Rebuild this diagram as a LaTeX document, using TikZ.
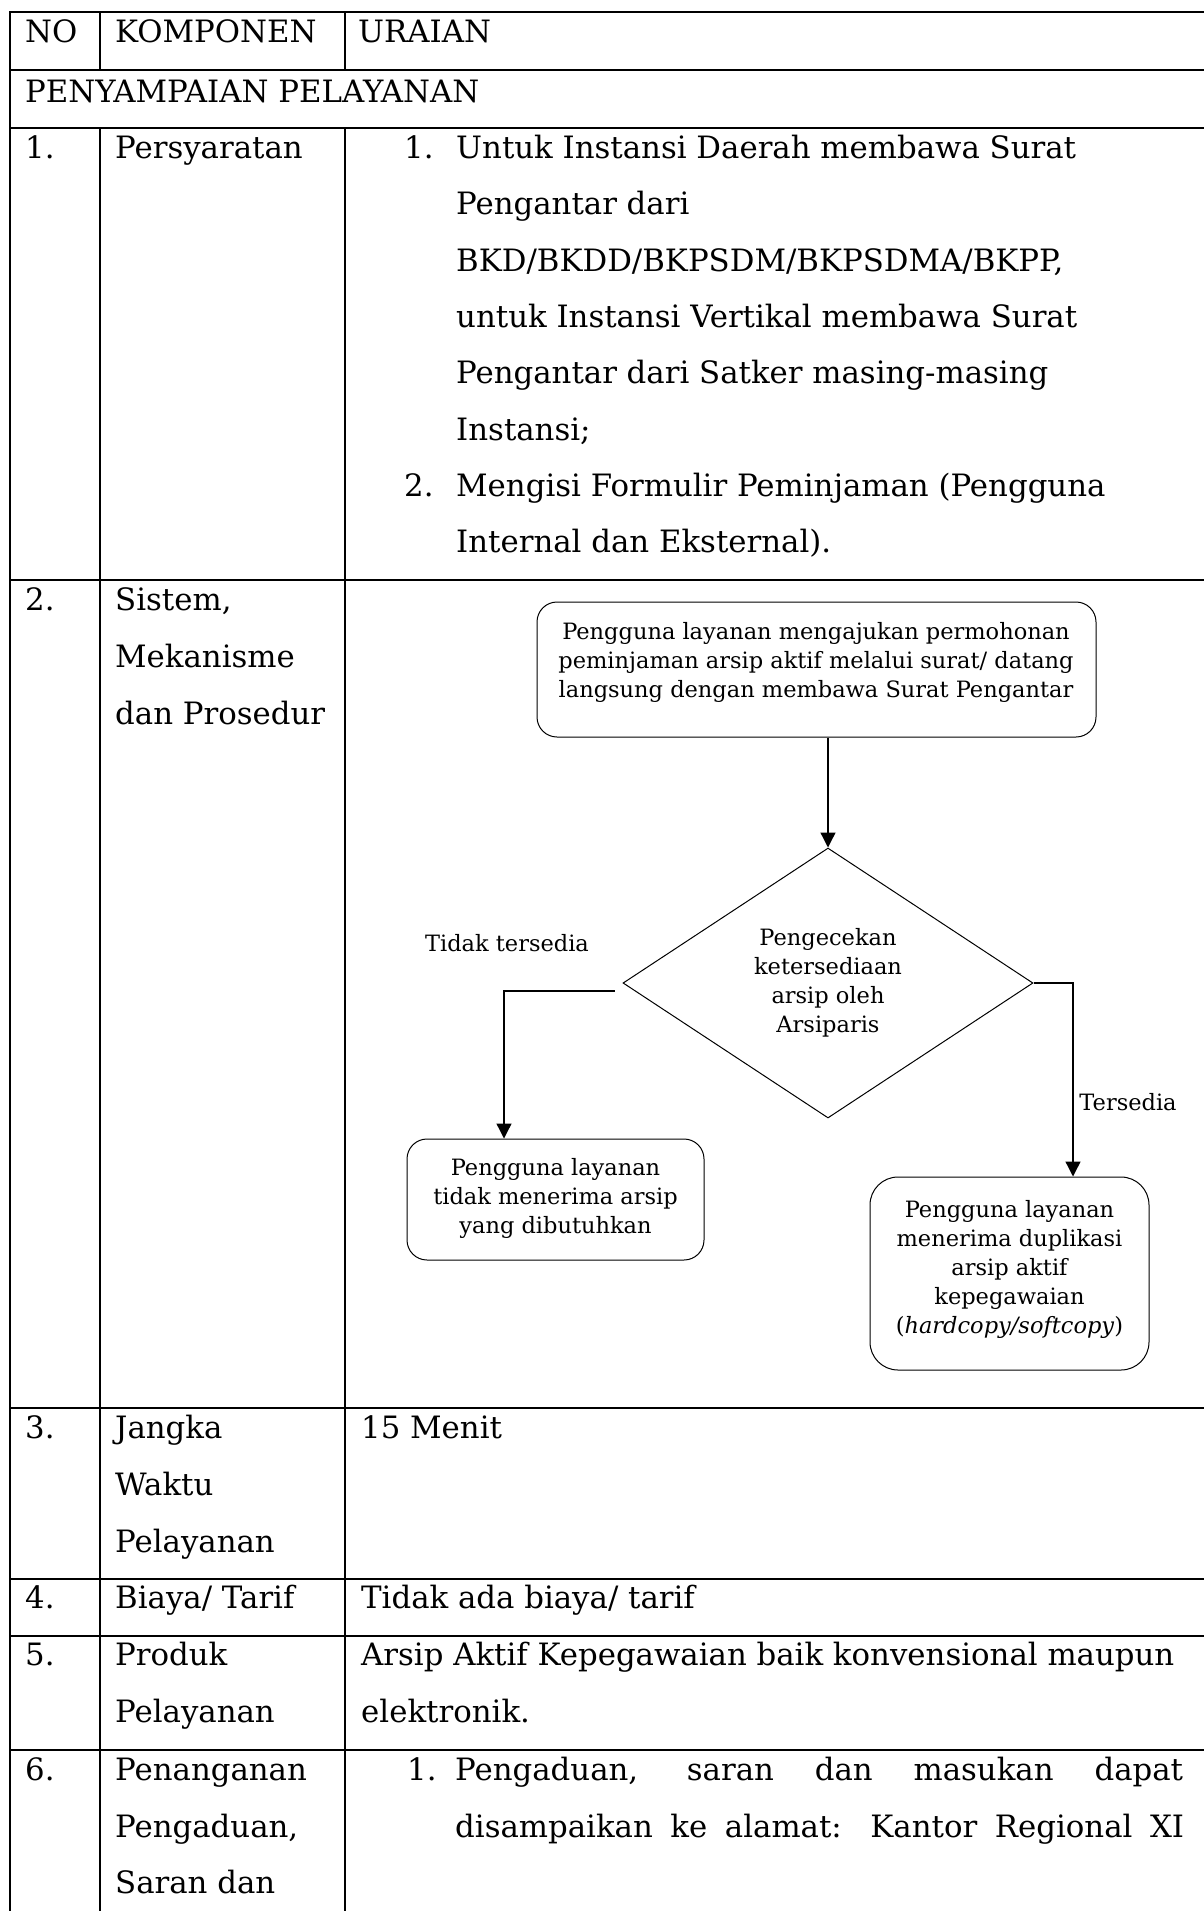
\documentclass[tikz,border=0pt]{standalone}
\usepackage{fontspec}
\setmainfont{DejaVu Serif}
\usetikzlibrary{shapes.geometric,arrows.meta,calc}
\begin{document}
\begin{tikzpicture}[x=1pt,y=-1pt,
  tline/.style={line width=1.6pt},
  tt/.style={anchor=base west,inner sep=0pt,font=\fontsize{30.8}{36}\selectfont},
  fbox/.style={draw,rounded corners=20pt,line width=1pt,inner sep=0pt},
  ft/.style={align=center,inner sep=0pt,font=\fontsize{22.5}{29}\selectfont},
  arr/.style={line width=1.3pt,-{Triangle[length=15pt,width=15pt]}},
]
\useasboundingbox (0,0) rectangle (1204,1911);
\clip (0,0) rectangle (1204,1911);
% table rules
\foreach \yy in {12,70,128,580,1408,1579,1636,1750}
  \draw[tline] (9.2,\yy) -- (1210,\yy);
\draw[tline] (10,11.2) -- (10,1920);
\draw[tline] (100,12) -- (100,70);
\draw[tline] (100,128) -- (100,1920);
\draw[tline] (345,12) -- (345,70);
\draw[tline] (345,128) -- (345,1920);
% header
\node[tt] (hno) at (25,43) {NO};
\node[tt] (hkomp) at (115,43) {KOMPONEN};
\node[tt] (hur) at (358,43) {URAIAN};
\node[tt] (hsec) at (25,102) {PENYAMPAIAN PELAYANAN};
% row 1
\node[tt] (n1) at (25,158) {1.};
\node[tt] (k1) at (115,158) {Persyaratan};
\node[tt] (u1n1) at (404,158) {1.};
\node[tt] (u1a) at (456,158) {Untuk Instansi Daerah membawa Surat};
\node[tt] (u1b) at (456,214) {Pengantar dari};
\node[tt] (u1c) at (456,271) {BKD/BKDD/BKPSDM/BKPSDMA/BKPP,};
\node[tt] (u1d) at (456,327) {untuk Instansi Vertikal membawa Surat};
\node[tt] (u1e) at (456,383) {Pengantar dari Satker masing-masing};
\node[tt] (u1f) at (456,440) {Instansi;};
\node[tt] (u1n2) at (404,496) {2.};
\node[tt] (u1g) at (456,496) {Mengisi Formulir Peminjaman (Pengguna};
\node[tt] (u1h) at (456,552) {Internal dan Eksternal).};
% row 2
\node[tt] (n2) at (25,610) {2.};
\node[tt] (k2a) at (115,610) {Sistem,};
\node[tt] (k2b) at (115,667) {Mekanisme};
\node[tt] (k2c) at (115,724) {dan Prosedur};
% flowchart
\node[fbox,minimum width=559pt,minimum height=135pt] (b1) at (816.5,669.5) {};
\node[ft] (b1t) at (816,662) {Pengguna layanan mengajukan permohonan\\peminjaman arsip aktif melalui surat/ datang\\langsung dengan membawa Surat Pengantar};
\node[draw,diamond,line width=1pt,inner sep=0pt,minimum width=410pt,minimum height=270pt] (d) at (828,983) {};
\node[ft] (dt) at (828,983) {Pengecekan\\ketersediaan\\arsip oleh\\Arsiparis};
\node[fbox,minimum width=297pt,minimum height=121pt] (b2) at (555.5,1199.5) {};
\node[ft] (b2t) at (555.5,1198) {Pengguna layanan\\tidak menerima arsip\\yang dibutuhkan};
\node[fbox,rounded corners=28pt,minimum width=279pt,minimum height=193pt] (b3) at (1009.5,1273.5) {};
\node[ft] (b3t) at (1009.5,1269) {Pengguna layanan\\menerima duplikasi\\arsip aktif\\kepegawaian\\(\textit{hardcopy/softcopy})};
\node[ft] (l1) at (507,943) {Tidak tersedia};
\node[ft] (l2) at (1128,1102) {Tersedia};
\draw[arr] (b1.south -| d.north) -- (d.north);
\draw[arr] ($(d.west)+(-8,8)$) -| ($(b2.north)+(-51.5,0)$);
\draw[arr] (d.east) -| ($(b3.north)+(63.5,0)$);
% row 3
\node[tt] (n3) at (25,1438) {3.};
\node[tt] (k3a) at (115,1438) {Jangka};
\node[tt] (k3b) at (115,1495) {Waktu};
\node[tt] (k3c) at (115,1552) {Pelayanan};
\node[tt] (u3) at (361,1438) {15 Menit};
% row 4
\node[tt] (n4) at (25,1608) {4.};
\node[tt] (k4) at (115,1608) {Biaya/ Tarif};
\node[tt] (u4) at (361,1608) {Tidak ada biaya/ tarif};
% row 5
\node[tt] (n5) at (25,1665) {5.};
\node[tt] (k5a) at (115,1665) {Produk};
\node[tt] (k5b) at (115,1722) {Pelayanan};
\node[tt] (u5a) at (361,1665) {Arsip Aktif Kepegawaian baik konvensional maupun};
\node[tt] (u5b) at (361,1722) {elektronik.};
% row 6
\node[tt] (n6) at (25,1780) {6.};
\node[tt] (k6a) at (115,1780) {Penanganan};
\node[tt] (k6b) at (115,1837) {Pengaduan,};
\node[tt] (k6c) at (115,1893) {Saran dan};
\node[tt] (u6n) at (407,1780) {1.};
\node[tt] (u6a) at (455,1780) {\makebox[728pt][s]{Pengaduan, saran dan masukan dapat}};
\node[tt] (u6b) at (455,1837) {\makebox[729pt][s]{disampaikan ke alamat: Kantor Regional XI}};
\end{tikzpicture}
\end{document}
